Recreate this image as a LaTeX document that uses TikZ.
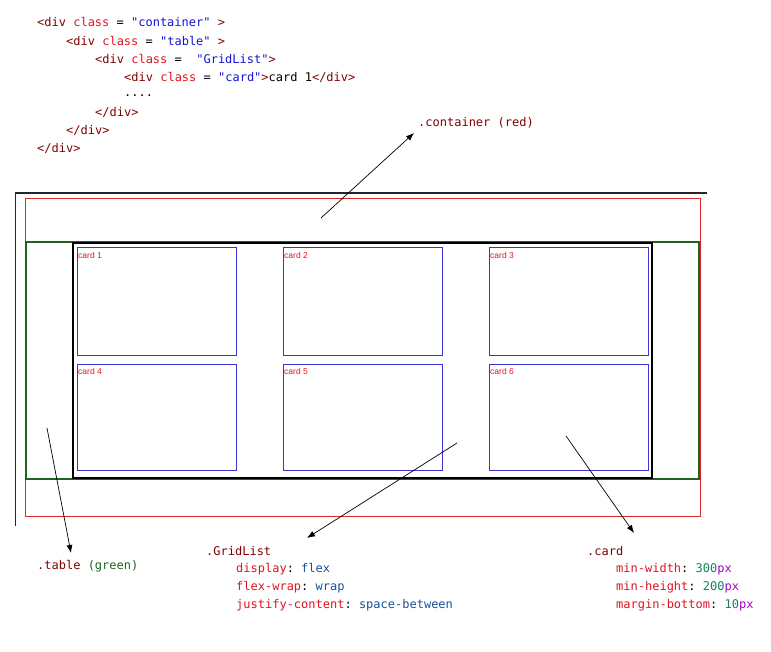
\documentclass[tikz,border=0pt]{standalone}
\usepackage{fontspec}
\setmainfont{Liberation Sans}
\setmonofont{DejaVu Sans Mono}
\usetikzlibrary{arrows.meta}

\definecolor{tagred}{RGB}{128,0,0}
\definecolor{attrred}{RGB}{225,20,30}
\definecolor{strblue}{RGB}{20,20,210}
\definecolor{valblue}{RGB}{20,80,160}
\definecolor{numgreen}{RGB}{20,130,90}
\definecolor{pxpurple}{RGB}{170,0,200}
\definecolor{tblgreen}{RGB}{30,100,30}
\definecolor{boxred}{RGB}{220,40,40}
\definecolor{cardblue}{RGB}{60,50,215}

\tikzset{
  code/.style={anchor=west, inner sep=0pt, font=\ttfamily\fontsize{12}{14}\selectfont},
  cardtxt/.style={anchor=west, inner sep=0pt, text=attrred, font=\fontsize{8.5}{9}\selectfont},
  cardbox/.style={draw=cardblue, line width=1pt},
  pointer/.style={-{Latex[length=8pt,width=6pt]}, line width=0.7pt}
}

\newcommand{\tg}[1]{\textcolor{tagred}{#1}}
\newcommand{\at}[1]{\textcolor{attrred}{#1}}
\newcommand{\st}[1]{\textcolor{strblue}{#1}}
\newcommand{\vl}[1]{\textcolor{valblue}{#1}}
\newcommand{\nm}[1]{\textcolor{numgreen}{#1}}
\newcommand{\px}{\textcolor{pxpurple}{px}}

\begin{document}
\begin{tikzpicture}[x=1pt,y=-1pt]
  \useasboundingbox (0,0) rectangle (771,652);

  % html code
  \node[code] (l1) at (37,22) {\tg{<div} \at{class} = \st{"container"} \tg{>}};
  \node[code] (l2) at (66,41) {\tg{<div} \at{class} = \st{"table"} \tg{>}};
  \node[code] (l3) at (95,59) {\tg{<div} \at{class} =\ \ \st{"GridList"}\tg{>}};
  \node[code] (l4) at (124,77) {\tg{<div} \at{class} = \st{"card"}\tg{>}card 1\tg{</div>}};
  \node[code] (l5) at (124,96) {....};
  \node[code] (l6) at (95,113) {\tg{</div>}};
  \node[code] (l7) at (66,131) {\tg{</div>}};
  \node[code] (l8) at (37,149) {\tg{</div>}};

  % page frame
  \draw[line width=1.6pt, black!85] (15,193) -- (707,193);
  \draw[black!85] (15,193) -- (15,526);

  % boxes
  \draw[boxred, line width=0.8pt] (25,198) rectangle (700,516);
  \draw[tblgreen, line width=1.2pt] (26,242) rectangle (699,479);
  \draw[black, line width=2pt] (73,243) rectangle (652,478);

  % cards
  \draw[cardbox] (77,248) rectangle (236,355);
  \draw[cardbox] (283,248) rectangle (442,355);
  \draw[cardbox] (489,248) rectangle (648,355);
  \draw[cardbox] (77,364) rectangle (236,470);
  \draw[cardbox] (283,364) rectangle (442,470);
  \draw[cardbox] (489,364) rectangle (648,470);
  \node[cardtxt] (c1) at (78,255) {card 1};
  \node[cardtxt] (c2) at (284,255) {card 2};
  \node[cardtxt] (c3) at (490,255) {card 3};
  \node[cardtxt] (c4) at (78,371) {card 4};
  \node[cardtxt] (c5) at (284,371) {card 5};
  \node[cardtxt] (c6) at (490,371) {card 6};

  % labels
  \node[code] (contlbl) at (418,123) {\tg{.container (red)}};
  \node[code] (tbllbl) at (37,566) {\tg{.table} \textcolor{tblgreen}{(green)}};
  \node[code] (gridlbl) at (206,551) {\tg{.GridList}};
  \node[code] (grid1) at (236,569) {\at{display}: \vl{flex}};
  \node[code] (grid2) at (236,587) {\at{flex-wrap}: \vl{wrap}};
  \node[code] (grid3) at (236,605) {\at{justify-content}: \vl{space-between}};
  \node[code] (cardlbl) at (587,551) {\tg{.card}};
  \node[code] (card1) at (616,569) {\at{min-width}: \nm{300}\px};
  \node[code] (card2) at (616,587) {\at{min-height}: \nm{200}\px};
  \node[code] (card3) at (616,605) {\at{margin-bottom}: \nm{10}\px};

  % pointers
  \coordinate (contfrom) at (321,218);
  \coordinate (contto) at (414,133);
  \coordinate (tblfrom) at (47,428);
  \coordinate (tblto) at (71,553);
  \coordinate (gridfrom) at (457,443);
  \coordinate (gridto) at (307,538);
  \coordinate (cardfrom) at (566,436);
  \coordinate (cardto) at (634,533);
  \draw[pointer] (contfrom) -- (contto);
  \draw[pointer] (tblfrom) -- (tblto);
  \draw[pointer] (gridfrom) -- (gridto);
  \draw[pointer] (cardfrom) -- (cardto);
\end{tikzpicture}
\end{document}
